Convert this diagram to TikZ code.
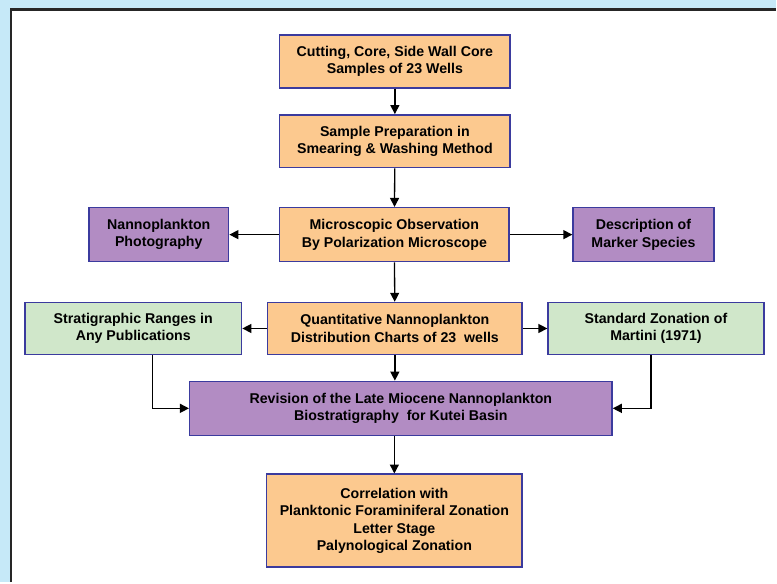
\documentclass[tikz,border=0pt]{standalone}
\usepackage{fontspec}
\setmainfont{Liberation Sans}
\usetikzlibrary{arrows.meta}

\definecolor{bgblue}{HTML}{C6E9F8}
\definecolor{edgeblue}{HTML}{3B3B9E}
\definecolor{peach}{HTML}{FCC98F}
\definecolor{lilac}{HTML}{B28CC3}
\definecolor{mint}{HTML}{D0E7CA}

\tikzset{
  box/.style={draw=edgeblue, line width=1.5pt, align=center, inner sep=2pt,
    font=\bfseries\fontsize{14.2}{17.5}\selectfont},
  peachbox/.style={box, fill=peach},
  lilacbox/.style={box, fill=lilac},
  mintbox/.style={box, fill=mint},
  arr/.style={draw=black, line width=1.3pt, -{Triangle[length=9pt,width=9pt]}}
}

\begin{document}
\begin{tikzpicture}[x=1pt, y=-1pt]
                    % 背景（水色）と白い枠
                    \fill[bgblue] (0,0) rectangle (777,583);
                    \fill[white] (10,9) rectangle (777,583);
                    \draw[black!85, line width=2.5pt] (11,583) -- (11,9.5) -- (777,9.5);
                    \useasboundingbox (0,0) rectangle (777,583);
                    % 中央の流れ
                    \node[peachbox, minimum width=231pt, minimum height=53pt] (cut) at (395.5,61.5)
                        {Cutting, Core, Side Wall Core\\Samples of 23 Wells};
                    \node[peachbox, minimum width=231pt, minimum height=53pt] (prep) at (395.5,141.5)
                        {Sample Preparation in\\Smearing \& Washing Method};
                    \node[peachbox, minimum width=230pt, minimum height=54pt] (micro) at (395,235)
                        {Microscopic Observation\\By Polarization Microscope};
                    \node[peachbox, minimum width=255pt, minimum height=52pt] (quant) at (395.5,329)
                        {Quantitative Nannoplankton\\Distribution Charts of 23 \ wells};
                    \node[lilacbox, minimum width=423pt, minimum height=54pt] (rev) at (401.5,409)
                        {Revision of the Late Miocene Nannoplankton\\Biostratigraphy \ for Kutei Basin};
                    \node[peachbox, minimum width=256pt, minimum height=93pt] (corr) at (395,521.5)
                        {Correlation with\\Planktonic Foraminiferal Zonation\\Letter Stage\\Palynological Zonation};
                    % 左右の箱
                    \node[lilacbox, minimum width=140pt, minimum height=54pt] (photo) at (159,235)
                        {Nannoplankton\\Photography};
                    \node[lilacbox, minimum width=141pt, minimum height=54pt] (desc) at (644.5,235)
                        {Description of\\Marker Species};
                    \node[mintbox, minimum width=217pt, minimum height=52pt] (strat) at (133.5,329)
                        {Stratigraphic Ranges in\\Any Publications};
                    \node[mintbox, minimum width=216pt, minimum height=52pt] (stand) at (657,329)
                        {Standard Zonation of\\Martini (1971)};
                    % 矢印
                    \draw[arr] (cut) -- (prep);
                    \draw[arr] (prep) -- (micro);
                    \draw[arr] (micro) -- (photo);
                    \draw[arr] (micro) -- (desc);
                    \draw[arr] (micro) -- (quant);
                    \draw[arr] (quant) -- (strat);
                    \draw[arr] (quant) -- (stand);
                    \draw[arr] (quant.south) -- (quant.south |- rev.north);
                    \draw[arr] ([xshift=19.5pt]strat.south) |- (rev.west);
                    \draw[arr] ([xshift=-5pt]stand.south) |- (rev.east);
                    \draw[arr] (rev.south -| corr.north) -- (corr.north);
\end{tikzpicture}
\end{document}
